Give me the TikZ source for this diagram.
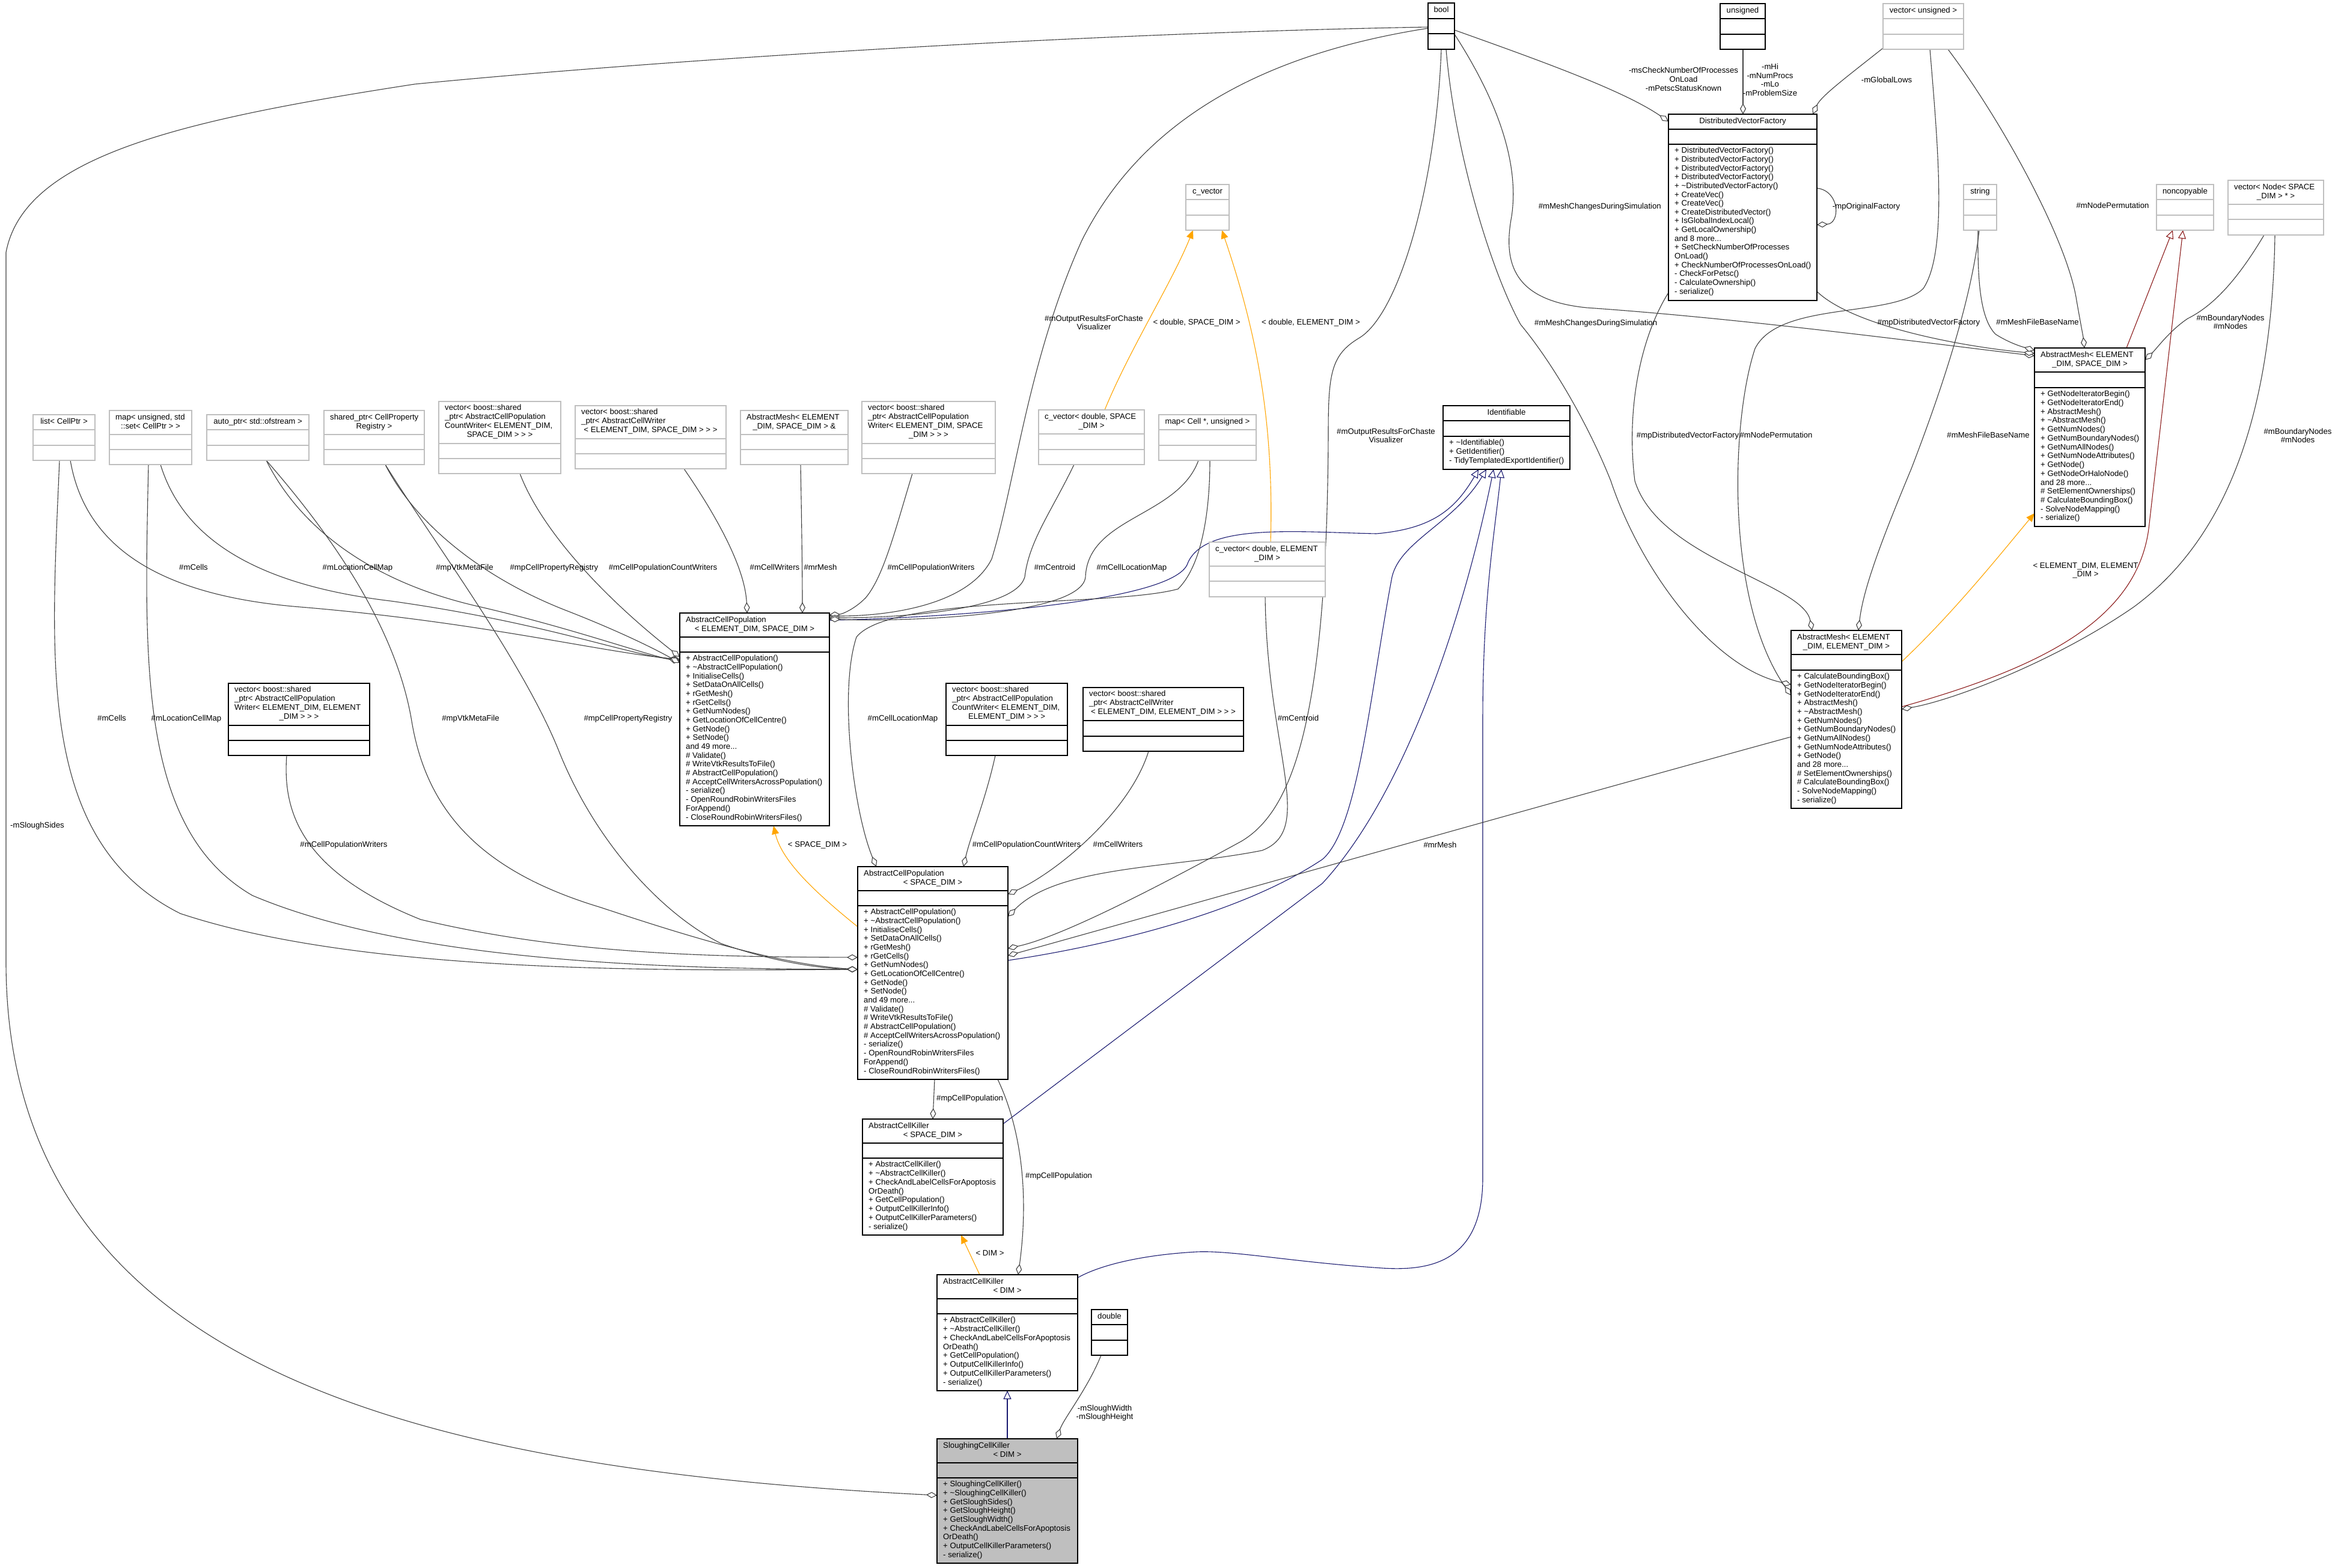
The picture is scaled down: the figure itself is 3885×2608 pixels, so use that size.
\documentclass[tikz,border=0pt]{standalone}
\usepackage{fontspec}
\setmainfont{Liberation Sans}
\usetikzlibrary{arrows.meta,calc}
\definecolor{eg}{HTML}{404040}
\definecolor{blu}{HTML}{191970}
\definecolor{orng}{HTML}{FFA500}
\definecolor{redc}{HTML}{8B1A1A}
\definecolor{gb}{HTML}{BFBFBF}
\definecolor{sckf}{HTML}{BFBFBF}
\pgfdeclarelayer{bg}
\pgfsetlayers{bg,main}
\newcommand\fs{\fontsize{13.2}{14.67}\selectfont}
\tikzset{
 box/.style={inner sep=0pt, outer sep=0pt, anchor=north west, line width=1.3pt, fill=white},
 txt/.style={inner sep=0pt, font=\fs, execute at begin node=\strut},
 usedge/.style={draw=eg, line width=1.1pt, -{Diamond[fill=white, length=18pt, width=10pt, line width=1.1pt]}},
 inhedge/.style={draw=blu, line width=1.1pt, -{Triangle[fill=white, length=14pt, width=13pt, line width=1.1pt]}},
 tpledge/.style={draw=orng, line width=1.1pt, -{Triangle[length=14pt, width=12pt]}},
 privedge/.style={draw=redc, line width=1.1pt, -{Triangle[fill=white, length=14pt, width=13pt, line width=1.1pt]}},
 lbl/.style={txt, align=center},
}
\newcommand\umlbox[8]{%
 \node[box, #2, minimum width={#5-#3}, minimum height={#8-#4}] (#1) at (#3,#4) {};
 \draw[#2, line width=1.3pt] (#3,#6) -- (#5,#6) (#3,#7) -- (#5,#7);}
\newcommand\hdone[5]{\node[txt, anchor=north] (#1) at ({(#2+#3)/2},{#4+5}) {#5};}
\newcommand\hdmul[7]{%
 \node[txt, anchor=north west, align=left] (#1a) at ({#2+10},{#4+5}) {#6};
 \node[txt, anchor=north] (#1b) at ({(#2+#3)/2},{#4+5+14.67*#5}) {#7};}
\newcommand\mems[5]{\node[txt, anchor=north west, align=left, font=\fontsize{13.2}{#4}\selectfont] (#1) at ({#2+10},{#3+5}) {#5};}
\newcommand\acpmem{+ AbstractCellPopulation()\\+ \textasciitilde AbstractCellPopulation()\\+ InitialiseCells()\\+ SetDataOnAllCells()\\+ rGetMesh()\\+ rGetCells()\\+ GetNumNodes()\\+ GetLocationOfCellCentre()\\+ GetNode()\\+ SetNode()\\and 49 more...\\\# Validate()\\\# WriteVtkResultsToFile()\\\# AbstractCellPopulation()\\\# AcceptCellWritersAcrossPopulation()\\- serialize()\\- OpenRoundRobinWritersFiles\\ForAppend()\\- CloseRoundRobinWritersFiles()}
\newcommand\ackmem{+ AbstractCellKiller()\\+ \textasciitilde AbstractCellKiller()\\+ CheckAndLabelCellsForApoptosis\\OrDeath()\\+ GetCellPopulation()\\+ OutputCellKillerInfo()\\+ OutputCellKillerParameters()\\- serialize()}
\begin{document}
\begin{tikzpicture}[x=1pt,y=-1pt]
\begin{pgfonlayer}{bg}
\fill[white] (0,0) rectangle (3885,2608);
\end{pgfonlayer}
\useasboundingbox (0,0) rectangle (3885,2608);
% ---------------- boxes
\umlbox{bool}{draw=black}{2376}{5}{2420}{31}{56}{82}
\hdone{boolh}{2376}{2420}{5}{bool}
\umlbox{unsg}{draw=black}{2862}{6}{2937}{31}{57}{82}
\hdone{unsgh}{2862}{2937}{6}{unsigned}
\umlbox{vecuns}{draw=gb}{3133}{6}{3267}{31}{57}{82}
\hdone{vecunsh}{3133}{3267}{6}{vector< unsigned >}
\umlbox{dvf}{draw=black}{2776}{190}{3023}{215}{240}{500}
\hdone{dvfh}{2776}{3023}{190}{DistributedVectorFactory}
\mems{dvfm}{2776}{240}{14.65}{+ DistributedVectorFactory()\\+ DistributedVectorFactory()\\+ DistributedVectorFactory()\\+ DistributedVectorFactory()\\+ \textasciitilde DistributedVectorFactory()\\+ CreateVec()\\+ CreateVec()\\+ CreateDistributedVector()\\+ IsGlobalIndexLocal()\\+ GetLocalOwnership()\\and 8 more...\\+ SetCheckNumberOfProcesses\\OnLoad()\\+ CheckNumberOfProcessesOnLoad()\\- CheckForPetsc()\\- CalculateOwnership()\\- serialize()}
\umlbox{strg}{draw=gb}{3267}{307}{3322}{332}{358}{383}
\hdone{strgh}{3267}{3322}{307}{string}
\umlbox{noncp}{draw=gb}{3588}{307}{3683}{332}{358}{383}
\hdone{noncph}{3588}{3683}{307}{noncopyable}
\umlbox{vecnode}{draw=gb}{3707}{300}{3866}{340}{365}{391}
\hdmul{vecnodeh}{3707}{3866}{300}{1}{vector< Node< SPACE}{\_DIM > * >}
\umlbox{ams}{draw=black}{3385}{579}{3569}{619}{645}{876}
\hdmul{amsh}{3385}{3569}{579}{1}{AbstractMesh< ELEMENT}{\_DIM, SPACE\_DIM >}
\mems{amsm}{3385}{645}{14.73}{+ GetNodeIteratorBegin()\\+ GetNodeIteratorEnd()\\+ AbstractMesh()\\+ \textasciitilde AbstractMesh()\\+ GetNumNodes()\\+ GetNumBoundaryNodes()\\+ GetNumAllNodes()\\+ GetNumNodeAttributes()\\+ GetNode()\\+ GetNodeOrHaloNode()\\and 28 more...\\\# SetElementOwnerships()\\\# CalculateBoundingBox()\\- SolveNodeMapping()\\- serialize()}
\umlbox{ame}{draw=black}{2980}{1049}{3164}{1089}{1115}{1345}
\hdmul{ameh}{2980}{3164}{1049}{1}{AbstractMesh< ELEMENT}{\_DIM, ELEMENT\_DIM >}
\mems{amem}{2980}{1115}{14.67}{+ CalculateBoundingBox()\\+ GetNodeIteratorBegin()\\+ GetNodeIteratorEnd()\\+ AbstractMesh()\\+ \textasciitilde AbstractMesh()\\+ GetNumNodes()\\+ GetNumBoundaryNodes()\\+ GetNumAllNodes()\\+ GetNumNodeAttributes()\\+ GetNode()\\and 28 more...\\\# SetElementOwnerships()\\\# CalculateBoundingBox()\\- SolveNodeMapping()\\- serialize()}
\umlbox{cvec}{draw=gb}{1973}{307}{2045}{332}{358}{383}
\hdone{cvech}{1973}{2045}{307}{c\_vector}
\umlbox{cvecs}{draw=gb}{1728}{682}{1904}{722}{748}{773}
\hdmul{cvecsh}{1728}{1904}{682}{1}{c\_vector< double, SPACE}{\_DIM >}
\umlbox{mapcell}{draw=gb}{1928}{690}{2090}{715}{741}{766}
\hdone{mapcellh}{1928}{2090}{690}{map< Cell *, unsigned >}
\umlbox{ident}{draw=black}{2401}{675}{2612}{700}{726}{781}
\hdone{identh}{2401}{2612}{675}{Identifiable}
\mems{identm}{2401}{726}{15}{+ \textasciitilde Identifiable()\\+ GetIdentifier()\\- TidyTemplatedExportIdentifier()}
\umlbox{cvece}{draw=gb}{2012}{902}{2205}{942}{967}{993}
\hdmul{cveceh}{2012}{2205}{902}{1}{c\_vector< double, ELEMENT}{\_DIM >}
\umlbox{list}{draw=gb}{55}{690}{158}{715}{741}{766}
\hdone{listh}{55}{158}{690}{list< CellPtr >}
\umlbox{mapset}{draw=gb}{182}{683}{319}{723}{748}{773}
\hdmul{mapseth}{182}{319}{683}{1}{map< unsigned, std}{::set< CellPtr > >}
\umlbox{autoptr}{draw=gb}{344}{690}{514}{715}{741}{766}
\hdone{autoptrh}{344}{514}{690}{auto\_ptr< std::ofstream >}
\umlbox{sharedptr}{draw=gb}{539}{683}{706}{723}{748}{773}
\hdmul{sharedptrh}{539}{706}{683}{1}{shared\_ptr< CellProperty}{Registry >}
\umlbox{vcwes}{draw=gb}{730}{668}{933}{738}{763}{788}
\hdmul{vcwesh}{730}{933}{668}{3}{vector< boost::shared\\\_ptr< AbstractCellPopulation\\CountWriter< ELEMENT\_DIM,}{SPACE\_DIM > > >}
\umlbox{vcws}{draw=gb}{957}{675}{1208}{730}{755}{780}
\hdmul{vcwsh}{957}{1208}{675}{2}{vector< boost::shared\\\_ptr< AbstractCellWriter}{< ELEMENT\_DIM, SPACE\_DIM > > >}
\umlbox{amref}{draw=gb}{1232}{683}{1411}{723}{748}{773}
\hdmul{amrefh}{1232}{1411}{683}{1}{AbstractMesh< ELEMENT}{\_DIM, SPACE\_DIM > \&}
\umlbox{vpws}{draw=gb}{1434}{668}{1656}{738}{763}{788}
\hdmul{vpwsh}{1434}{1656}{668}{3}{vector< boost::shared\\\_ptr< AbstractCellPopulation\\Writer< ELEMENT\_DIM, SPACE}{\_DIM > > >}
\umlbox{acpes}{draw=black}{1131}{1020}{1380}{1060}{1085}{1374}
\hdmul{acpesh}{1131}{1380}{1020}{1}{AbstractCellPopulation}{< ELEMENT\_DIM, SPACE\_DIM >}
\mems{acpesm}{1131}{1085}{14.68}{\acpmem}
\umlbox{vpwee}{draw=black}{380}{1137}{615}{1207}{1232}{1257}
\hdmul{vpweeh}{380}{615}{1137}{3}{vector< boost::shared\\\_ptr< AbstractCellPopulation\\Writer< ELEMENT\_DIM, ELEMENT}{\_DIM > > >}
\umlbox{vcwee}{draw=black}{1574}{1137}{1776}{1207}{1232}{1257}
\hdmul{vcweeh}{1574}{1776}{1137}{3}{vector< boost::shared\\\_ptr< AbstractCellPopulation\\CountWriter< ELEMENT\_DIM,}{ELEMENT\_DIM > > >}
\umlbox{vcwe}{draw=black}{1802}{1144}{2069}{1199}{1225}{1250}
\hdmul{vcweh}{1802}{2069}{1144}{2}{vector< boost::shared\\\_ptr< AbstractCellWriter}{< ELEMENT\_DIM, ELEMENT\_DIM > > >}
\umlbox{acps}{draw=black}{1427}{1442}{1677}{1482}{1507}{1796}
\hdmul{acpsh}{1427}{1677}{1442}{1}{AbstractCellPopulation}{< SPACE\_DIM >}
\mems{acpsm}{1427}{1507}{14.68}{\acpmem}
\umlbox{acks}{draw=black}{1435}{1862}{1669}{1902}{1927}{2055}
\hdmul{acksh}{1435}{1669}{1862}{1}{AbstractCellKiller}{< SPACE\_DIM >}
\mems{acksm}{1435}{1927}{14.75}{\ackmem}
\umlbox{ackd}{draw=black}{1559}{2121}{1793}{2161}{2186}{2314}
\hdmul{ackdh}{1559}{1793}{2121}{1}{AbstractCellKiller}{< DIM >}
\mems{ackdm}{1559}{2186}{14.75}{\ackmem}
\umlbox{sck}{draw=black, fill=sckf}{1559}{2394}{1793}{2434}{2459}{2601}
\hdmul{sckh}{1559}{1793}{2394}{1}{SloughingCellKiller}{< DIM >}
\mems{sckm}{1559}{2459}{14.67}{+ SloughingCellKiller()\\+ \textasciitilde SloughingCellKiller()\\+ GetSloughSides()\\+ GetSloughHeight()\\+ GetSloughWidth()\\+ CheckAndLabelCellsForApoptosis\\OrDeath()\\+ OutputCellKillerParameters()\\- serialize()}
\umlbox{dbl}{draw=black}{1816}{2179}{1876}{2204}{2230}{2255}
\hdone{dblh}{1816}{1876}{2179}{double}
% ---------------- edges
\begin{pgfonlayer}{bg}
% bool
\draw[usedge] ($(bool.north west)+(0,40)$) .. controls (1800,55) and (1100,100) .. (690,140) .. controls (300,200) and (40,260) .. (10,420) -- (10,1600) .. controls (10,2280) and (700,2445) .. ($(sck.north west)+(0,94)$);
\draw[usedge] ($(bool.north west)+(44,45)$) .. controls (2560,100) and (2700,150) .. ($(dvf.north west)+(0,12)$);
\draw[usedge] ($(bool.north west)+(0,42)$) .. controls (2100,90) and (1900,200) .. (1800,400) .. controls (1710,600) and (1690,800) .. (1650,930) .. controls (1610,1010) and (1470,1025) .. ($(acpes.north east)+(0,5)$);
\draw[usedge] ($(bool.north west)+(44,52)$) .. controls (2480,150) and (2530,260) .. (2515,360) .. controls (2500,440) and (2520,500) .. (2640,512) .. controls (2900,530) and (3200,570) .. ($(ams.north west)+(0,13)$);
\draw[usedge] ($(bool.north west)+(30,77)$) .. controls (2420,250) and (2480,450) .. (2530,540) .. controls (2580,600) and (2640,700) .. (2680,800) .. controls (2730,950) and (2850,1110) .. ($(ame.north west)+(0,90)$);
\draw[usedge] ($(bool.north west)+(22,77)$) .. controls (2390,300) and (2330,520) .. (2262,562) .. controls (2215,590) and (2210,620) .. (2210,720) .. controls (2208,1200) and (2150,1350) .. (2065,1400) .. controls (1900,1490) and (1760,1560) .. ($(acps.north east)+(0,136)$);
% dvf
\draw[usedge] ($(unsg.north west)+(38,76)$) -- ($(dvf.north west)+(124,0)$);
\draw[usedge] ($(vecuns.north west)+(0,74)$) .. controls (3070,130) and (3030,160) .. ($(dvf.north west)+(240,0)$);
\draw[usedge] ($(dvf.north east)+(0,123)$) .. controls (3062,318) and (3062,372) .. ($(dvf.north east)+(0,184)$);
\draw[usedge] ($(dvf.north east)+(0,295)$) .. controls (3080,540) and (3250,575) .. ($(ams.north west)+(0,9)$);
\draw[usedge] ($(dvf.north west)+(0,297)$) .. controls (2730,560) and (2705,680) .. (2720,800) .. controls (2760,930) and (3000,970) .. ($(ame.north west)+(35,0)$);
% vector<unsigned>, string, vector<Node>
\draw[usedge] ($(vecuns.north west)+(108,76)$) .. controls (3330,200) and (3440,400) .. (3455,500) .. controls (3462,540) and (3466,560) .. ($(ams.north west)+(83,0)$);
\draw[usedge] ($(vecuns.north west)+(78,76)$) .. controls (3225,250) and (3240,420) .. (3200,480) .. controls (3150,530) and (2960,500) .. (2920,580) .. controls (2880,700) and (2870,1000) .. ($(ame.north west)+(0,108)$);
\draw[usedge] ($(strg.north west)+(24,76)$) .. controls (3290,470) and (3295,530) .. (3320,556) .. controls (3345,572) and (3368,578) .. ($(ams.north west)+(0,4)$);
\draw[usedge] ($(strg.north west)+(26,76)$) .. controls (3280,500) and (3230,650) .. (3180,780) .. controls (3130,900) and (3100,980) .. ($(ame.north west)+(112,0)$);
\draw[usedge] ($(vecnode.north west)+(60,91)$) .. controls (3720,470) and (3680,510) .. (3640,530) .. controls (3610,550) and (3590,578) .. ($(ams.north east)+(0,20)$);
\draw[usedge] ($(vecnode.north west)+(78,91)$) .. controls (3780,700) and (3700,900) .. (3550,1010) .. controls (3420,1100) and (3250,1165) .. ($(ame.north east)+(0,131)$);
\draw[privedge] ($(ams.north west)+(153,0)$) -- ($(noncp.north west)+(27,76)$);
\draw[privedge] ($(ame.north east)+(0,127)$) .. controls (3400,1110) and (3555,1030) .. (3575,880) -- ($(noncp.north west)+(44,76)$);
\draw[tpledge] ($(ame.north east)+(0,52)$) .. controls (3250,1020) and (3330,920) .. ($(ams.north west)+(0,275)$);
% Identifiable
\draw[inhedge] ($(acpes.north east)+(0,12)$) .. controls (1500,1030) and (1940,1010) .. (1975,940) .. controls (2000,870) and (2150,885) .. (2290,888) .. controls (2380,880) and (2420,850) .. ($(ident.south west)+(59,0)$);
\draw[inhedge] ($(acps.north east)+(0,156)$) .. controls (1800,1580) and (2050,1530) .. (2200,1430) .. controls (2260,1380) and (2280,1150) .. (2316,960) .. controls (2330,900) and (2420,870) .. ($(ident.south west)+(72,0)$);
\draw[inhedge] ($(acks.north east)+(0,8)$) -- (2200,1470) .. controls (2330,1330) and (2430,1050) .. ($(ident.south west)+(84,0)$);
\draw[inhedge] ($(ackd.north east)+(0,5)$) .. controls (1830,2105) and (1900,2088) .. (1990,2083) .. controls (2050,2080) and (2150,2100) .. (2300,2110) .. controls (2380,2115) and (2467,2100) .. (2467,1960) -- (2467,1200) .. controls (2467,1000) and (2485,900) .. ($(ident.south west)+(97,0)$);
\draw[inhedge] ($(sck.north west)+(117,0)$) -- ($(ackd.south west)+(117,0)$);
% templates
\draw[tpledge] ($(acps.north west)+(0,100)$) .. controls (1350,1480) and (1300,1430) .. ($(acpes.south west)+(156,0)$);
\draw[tpledge] ($(ackd.north west)+(71,0)$) -- ($(acks.south west)+(164,0)$);
\draw[tpledge] ($(cvecs.north west)+(110,0)$) .. controls (1880,580) and (1950,470) .. ($(cvec.south west)+(12,0)$);
\draw[tpledge] ($(cvece.north west)+(102,0)$) .. controls (2120,700) and (2090,550) .. ($(cvec.south west)+(60,0)$);
% killers
\draw[usedge] ($(acps.south west)+(128,0)$) -- ($(acks.north west)+(117,0)$);
\draw[usedge] ($(acps.south west)+(233,0)$) .. controls (1700,1880) and (1712,1990) .. ($(ackd.north west)+(135,0)$);
\draw[usedge] ($(dbl.south west)+(16,0)$) .. controls (1810,2310) and (1770,2360) .. ($(sck.north west)+(199,0)$);
% into AbstractCellPopulation<ELEMENT_DIM,SPACE_DIM>
\draw[usedge] ($(list.south west)+(62,0)$) .. controls (140,900) and (250,990) .. (500,1010) .. controls (800,1035) and (1000,1085) .. ($(acpes.north west)+(0,77)$);
\draw[usedge] ($(mapset.south west)+(85,0)$) .. controls (300,880) and (400,970) .. (650,1000) .. controls (900,1035) and (1030,1085) .. ($(acpes.north west)+(0,79)$);
\draw[usedge] ($(autoptr.south west)+(99,0)$) .. controls (500,880) and (620,970) .. (800,1010) .. controls (950,1045) and (1060,1085) .. ($(acpes.north west)+(0,81)$);
\draw[usedge] ($(sharedptr.south west)+(102,0)$) .. controls (690,870) and (800,960) .. (940,1015) .. controls (1030,1050) and (1090,1080) .. ($(acpes.north west)+(0,83)$);
\draw[usedge] ($(vcwes.south west)+(135,0)$) .. controls (900,880) and (1000,990) .. ($(acpes.north west)+(0,73)$);
\draw[usedge] ($(vcws.south west)+(181,0)$) .. controls (1200,870) and (1240,950) .. ($(acpes.north west)+(112,0)$);
\draw[usedge] ($(amref.south west)+(100,0)$) .. controls (1334,880) and (1335,960) .. ($(acpes.north west)+(204,0)$);
\draw[usedge] ($(vpws.south west)+(84,0)$) .. controls (1490,880) and (1470,960) .. (1440,995) .. controls (1420,1015) and (1400,1022) .. ($(acpes.north east)+(0,3)$);
\draw[usedge] ($(cvecs.south west)+(59,0)$) .. controls (1750,850) and (1712,900) .. (1705,960) .. controls (1690,1015) and (1500,1028) .. ($(acpes.north east)+(0,8)$);
\draw[usedge] ($(mapcell.south west)+(66,0)$) .. controls (1960,860) and (1810,860) .. (1806,960) .. controls (1800,1025) and (1500,1035) .. ($(acpes.north east)+(0,10)$);
% into AbstractCellPopulation<SPACE_DIM>
\draw[usedge] ($(list.south west)+(44,0)$) .. controls (85,1100) and (60,1400) .. (300,1520) .. controls (600,1620) and (1100,1615) .. ($(acps.north west)+(0,171)$);
\draw[usedge] ($(mapset.south west)+(65,0)$) .. controls (240,1100) and (230,1380) .. (420,1490) .. controls (680,1600) and (1100,1612) .. ($(acps.north west)+(0,171)$);
\draw[usedge] ($(autoptr.south west)+(99,0)$) .. controls (560,900) and (660,1050) .. (685,1200) .. controls (710,1350) and (800,1450) .. (1000,1510) .. controls (1150,1560) and (1300,1605) .. ($(acps.north west)+(0,171)$);
\draw[usedge] ($(sharedptr.south west)+(102,0)$) .. controls (720,900) and (870,1100) .. (930,1250) .. controls (990,1400) and (1100,1520) .. (1200,1570) .. controls (1300,1605) and (1380,1612) .. ($(acps.north west)+(0,171)$);
\draw[usedge] ($(vpwee.south west)+(97,0)$) .. controls (470,1350) and (500,1450) .. (700,1530) .. controls (950,1590) and (1200,1592) .. ($(acps.north west)+(0,151)$);
\draw[usedge] ($(mapcell.south west)+(85,0)$) .. controls (2013,850) and (2000,940) .. (1960,980) .. controls (1850,1010) and (1480,990) .. (1425,1060) .. controls (1395,1150) and (1420,1350) .. ($(acps.north west)+(31,0)$);
\draw[usedge] ($(vcwee.south west)+(82,0)$) .. controls (1640,1330) and (1615,1390) .. ($(acps.north west)+(176,0)$);
\draw[usedge] ($(vcwe.south west)+(109,0)$) .. controls (1880,1350) and (1760,1450) .. ($(acps.north east)+(0,46)$);
\draw[usedge] ($(cvece.south west)+(93,0)$) .. controls (2108,1250) and (2190,1380) .. (2100,1415) .. controls (1950,1445) and (1760,1440) .. ($(acps.north east)+(0,83)$);
\draw[usedge] ($(ame.north west)+(0,177)$) .. controls (2600,1330) and (2000,1500) .. ($(acps.north east)+(0,148)$);
\end{pgfonlayer}
% ---------------- labels
\node[lbl] (l1) at (62,1375) {-mSloughSides};
\node[lbl] (l2) at (2801,134) {-msCheckNumberOfProcesses\\OnLoad\\-mPetscStatusKnown};
\node[lbl] (l3) at (2945,135) {-mHi\\-mNumProcs\\-mLo\\-mProblemSize};
\node[lbl] (l4) at (3139,135) {-mGlobalLows};
\node[lbl] (l5) at (3105,345) {-mpOriginalFactory};
\node[lbl, anchor=east] (l6) at (2764,345) {\#mMeshChangesDuringSimulation};
\node[lbl, anchor=west] (l7) at (2553,539) {\#mMeshChangesDuringSimulation};
\node[lbl] (l8) at (3515,344) {\#mNodePermutation};
\node[lbl] (l9) at (3390,538) {\#mMeshFileBaseName};
\node[lbl] (l10) at (3209,538) {\#mpDistributedVectorFactory};
\node[lbl] (l11) at (3711,538) {\#mBoundaryNodes\\\#mNodes};
\node[lbl] (l12) at (3823,727) {\#mBoundaryNodes\\\#mNodes};
\node[lbl] (l13) at (3470,950) {< ELEMENT\_DIM, ELEMENT\\\_DIM >};
\node[lbl] (l14) at (2808,726) {\#mpDistributedVectorFactory};
\node[lbl] (l15) at (2955,726) {\#mNodePermutation};
\node[lbl] (l16) at (3308,726) {\#mMeshFileBaseName};
\node[lbl] (l17) at (1820,539) {\#mOutputResultsForChaste\\Visualizer};
\node[lbl] (l18) at (1991,538) {< double, SPACE\_DIM >};
\node[lbl] (l19) at (2181,538) {< double, ELEMENT\_DIM >};
\node[lbl] (l20) at (2306,727) {\#mOutputResultsForChaste\\Visualizer};
\node[lbl] (l21) at (322,946) {\#mCells};
\node[lbl] (l22) at (595,946) {\#mLocationCellMap};
\node[lbl] (l23) at (773,946) {\#mpVtkMetaFile};
\node[lbl] (l24) at (922,946) {\#mpCellPropertyRegistry};
\node[lbl] (l25) at (1103,946) {\#mCellPopulationCountWriters};
\node[lbl] (l26) at (1289,946) {\#mCellWriters};
\node[lbl] (l27) at (1365,946) {\#mrMesh};
\node[lbl] (l28) at (1549,946) {\#mCellPopulationWriters};
\node[lbl] (l29) at (1755,946) {\#mCentroid};
\node[lbl] (l30) at (1883,946) {\#mCellLocationMap};
\node[lbl] (l31) at (186,1197) {\#mCells};
\node[lbl] (l32) at (310,1197) {\#mLocationCellMap};
\node[lbl] (l33) at (783,1197) {\#mpVtkMetaFile};
\node[lbl] (l34) at (1045,1197) {\#mpCellPropertyRegistry};
\node[lbl] (l35) at (1502,1197) {\#mCellLocationMap};
\node[lbl] (l36) at (2160,1197) {\#mCentroid};
\node[lbl] (l37) at (572,1407) {\#mCellPopulationWriters};
\node[lbl] (l38) at (1360,1407) {< SPACE\_DIM >};
\node[lbl] (l39) at (1708,1407) {\#mCellPopulationCountWriters};
\node[lbl] (l40) at (1860,1407) {\#mCellWriters};
\node[lbl] (l41) at (2396,1408) {\#mrMesh};
\node[lbl, anchor=west] (l42) at (1558,1829) {\#mpCellPopulation};
\node[lbl, anchor=west] (l43) at (1706,1958) {\#mpCellPopulation};
\node[lbl] (l44) at (1647,2087) {< DIM >};
\node[lbl] (l45) at (1838,2352) {-mSloughWidth\\-mSloughHeight};
\end{tikzpicture}
\end{document}
